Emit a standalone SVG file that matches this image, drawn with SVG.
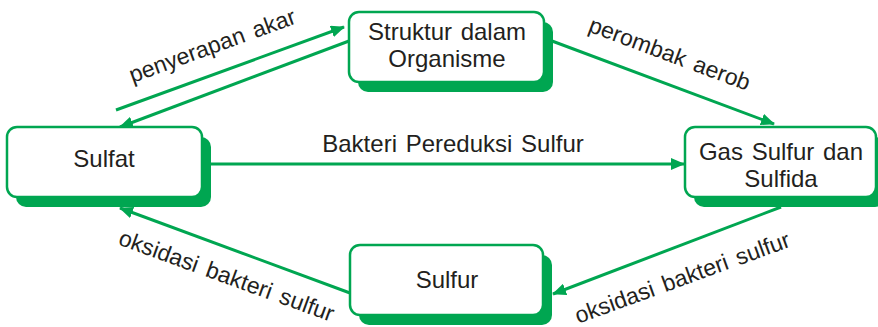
<svg xmlns="http://www.w3.org/2000/svg" width="878" height="327" viewBox="0 0 878 327">
<style>
.shadow{fill:#00A651}
.box{fill:#fff;stroke:#00A651;stroke-width:2.5}
.t{font-family:"Liberation Sans",Arial,sans-serif;font-size:23px;fill:#231F20;text-anchor:middle;word-spacing:3px}
.n{font-size:24px;word-spacing:2px}
.c{stroke:#00A651;stroke-width:3;fill:none;marker-end:url(#ah)}
</style>
<defs>
<marker id="ah" markerUnits="userSpaceOnUse" markerWidth="14" markerHeight="12" viewBox="0 0 14 12" refX="13" refY="6" orient="auto">
<path d="M0,0 L14,6 L0,12 Z" fill="#00A651"/>
</marker>
</defs>
<g id="connectors">
<line class="c" x1="116" y1="110" x2="344" y2="27"/>
<line class="c" x1="349" y1="41" x2="120" y2="127"/>
<line class="c" x1="552" y1="41" x2="774" y2="124"/>
<line class="c" x1="211" y1="164" x2="684" y2="164"/>
<line class="c" x1="350" y1="293" x2="120" y2="208"/>
<line class="c" x1="781" y1="207" x2="553" y2="294"/>
<text class="t" transform="translate(215,53) rotate(-20)">penyerapan akar</text>
<text class="t" transform="translate(667,61) rotate(20.5)">perombak aerob</text>
<text class="t n" x="453" y="152">Bakteri Pereduksi Sulfur</text>
<text class="t" transform="translate(224,283) rotate(20)">oksidasi bakteri sulfur</text>
<text class="t" transform="translate(685,285) rotate(-20)">oksidasi bakteri sulfur</text>
</g>
<g id="node-struktur">
<rect class="shadow" x="358" y="22" width="195" height="70" rx="10"/>
<rect class="box" x="349" y="12" width="195" height="70" rx="10"/>
<text class="t n" x="447" y="40">Struktur dalam</text>
<text class="t n" x="447" y="67">Organisme</text>
</g>
<g id="node-sulfat">
<rect class="shadow" x="16" y="137" width="195" height="70" rx="10"/>
<rect class="box" x="7" y="127" width="195" height="70" rx="10"/>
<text class="t n" x="104" y="167">Sulfat</text>
</g>
<g id="node-gas">
<rect class="shadow" x="694" y="137" width="191" height="70" rx="10"/>
<rect class="box" x="685" y="127" width="191" height="70" rx="10"/>
<text class="t n" x="781" y="160">Gas Sulfur dan</text>
<text class="t n" x="781" y="187">Sulfida</text>
</g>
<g id="node-sulfur">
<rect class="shadow" x="359" y="255" width="193" height="70" rx="10"/>
<rect class="box" x="350" y="245" width="193" height="70" rx="10"/>
<text class="t n" x="447" y="288">Sulfur</text>
</g>
</svg>
